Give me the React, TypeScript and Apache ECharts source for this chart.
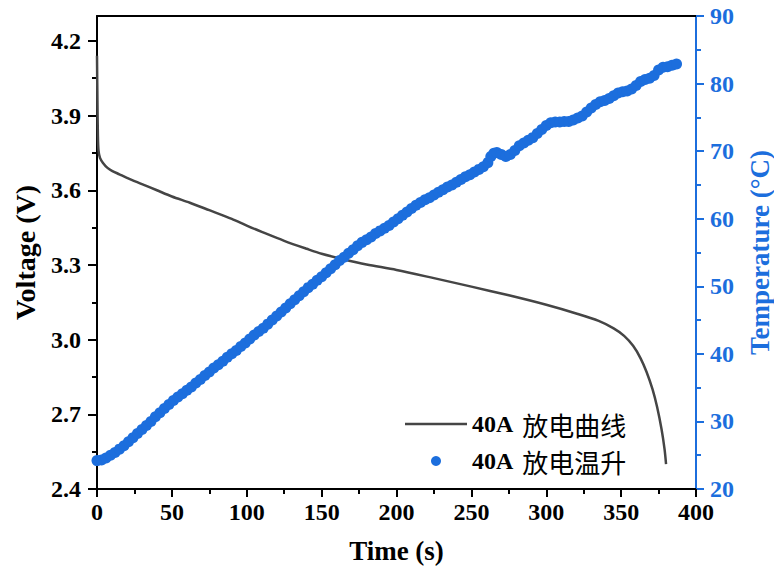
import React, { useEffect, useRef } from "react";
import * as echarts from "echarts";

// Discharge voltage curve (time s, voltage V)
const timeV = [0, 0.3, 0.6, 1, 2, 4, 7, 10, 15, 20, 30, 40, 50, 62, 75, 90, 100, 110, 125, 140, 150, 165, 180, 200, 225, 250, 275, 300, 320, 335, 345, 352, 358, 363, 367, 371, 374, 377, 379, 380];
const voltage = [4.14, 3.95, 3.82, 3.76, 3.73, 3.71, 3.69, 3.678, 3.664, 3.65, 3.625, 3.6, 3.575, 3.55, 3.52, 3.485, 3.458, 3.433, 3.397, 3.365, 3.345, 3.322, 3.302, 3.28, 3.247, 3.213, 3.178, 3.14, 3.105, 3.075, 3.045, 3.015, 2.975, 2.925, 2.87, 2.8, 2.73, 2.64, 2.56, 2.5];

// Temperature rise (time s, temperature °C)
const timeT = [0, 3, 6, 9, 12, 15, 18, 21, 24, 27, 30, 33, 36, 39, 42, 45, 48, 51, 54, 57, 60, 63, 66, 69, 72, 75, 78, 81, 84, 87, 90, 93, 96, 99, 102, 105, 108, 111, 114, 117, 120, 123, 126, 129, 132, 135, 138, 141, 144, 147, 150, 153, 156, 159, 162, 165, 168, 171, 174, 177, 180, 183, 186, 189, 192, 195, 198, 201, 204, 207, 210, 213, 216, 219, 222, 225, 228, 231, 234, 237, 240, 243, 246, 249, 252, 255, 258, 261, 263, 265, 267, 270, 273, 276, 279, 282, 285, 288, 291, 294, 297, 300, 303, 306, 309, 312, 315, 318, 321, 324, 327, 330, 333, 336, 339, 342, 345, 348, 351, 354, 357, 360, 363, 366, 369, 372, 375, 378, 381, 384, 387];
const temperature = [24.2, 24.3, 24.6, 25.0, 25.4, 25.9, 26.4, 27.0, 27.6, 28.2, 28.8, 29.4, 30.0, 30.7, 31.3, 31.9, 32.5, 33.1, 33.6, 34.1, 34.6, 35.1, 35.7, 36.2, 36.8, 37.3, 37.9, 38.4, 38.9, 39.5, 40.0, 40.5, 41.1, 41.6, 42.2, 42.8, 43.3, 43.8, 44.4, 45.0, 45.6, 46.2, 46.8, 47.4, 48.0, 48.6, 49.2, 49.8, 50.3, 50.9, 51.4, 52.0, 52.6, 53.2, 53.8, 54.3, 54.9, 55.4, 56.0, 56.5, 56.9, 57.3, 57.8, 58.2, 58.6, 59.0, 59.5, 60.0, 60.5, 61.0, 61.5, 62.0, 62.4, 62.8, 63.1, 63.5, 63.9, 64.3, 64.7, 65.0, 65.4, 65.8, 66.2, 66.5, 66.9, 67.3, 67.7, 68.3, 69.2, 69.7, 69.8, 69.5, 69.2, 69.5, 70.1, 70.8, 71.2, 71.6, 72.0, 72.6, 73.2, 73.8, 74.2, 74.3, 74.3, 74.4, 74.4, 74.6, 74.9, 75.2, 75.8, 76.4, 76.9, 77.3, 77.5, 77.8, 78.2, 78.6, 78.8, 78.9, 79.2, 79.7, 80.3, 80.6, 80.8, 81.2, 82.0, 82.4, 82.5, 82.7, 82.9];

const voltageMajorTicks = [2.4, 2.7, 3.0, 3.3, 3.6, 3.9, 4.2];
const voltageMinorTicks = [2.55, 2.85, 3.15, 3.45, 3.75, 4.05];

const seriesNames = ["40A 放电曲线", "40A 放电温升"];

const BLUE = "#1c6edd";
const GREY = "#454545";
const SERIF = "Liberation Serif";
const CJK = "Noto Sans CJK SC";

export default function App() {
  const ref = useRef<HTMLDivElement>(null);
  useEffect(() => {
    const chart = echarts.init(ref.current!, null, { renderer: "svg" });
    const labelStyle = { fontFamily: SERIF, fontWeight: "bold", fontSize: 24, color: "#000" };
    chart.setOption({
      animation: false,
      backgroundColor: "#fff",
      grid: { left: 97, right: 78, top: 16, bottom: 79, containLabel: false, outerBoundsMode: "none" },
      legend: {
        orient: "vertical",
        left: 405,
        top: 411,
        padding: 0,
        itemWidth: 62,
        itemHeight: 10,
        itemGap: 11,
        data: [
          { name: seriesNames[0], icon: "path://M0,0H62V2.5H0Z", itemStyle: { color: GREY } },
          { name: seriesNames[1], icon: "circle" },
        ],
        formatter: (name: string) => `{a|${name.slice(0, 3)}}{b|${name.slice(4)}}`,
        textStyle: {
          rich: {
            a: { fontFamily: SERIF, fontWeight: "bold", fontSize: 24, color: "#000" },
            b: { fontFamily: CJK, fontSize: 26, color: "#000", padding: [0, 0, 0, 9] },
          },
        },
      },
      xAxis: [
        {
          type: "value",
          position: "bottom",
          min: 0,
          max: 400,
          interval: 50,
          axisLine: { onZero: false, lineStyle: { color: "#000", width: 2 } },
          axisTick: { length: 8, lineStyle: { color: "#000", width: 2 } },
          minorTick: { show: true, splitNumber: 2, length: 5, lineStyle: { color: "#000", width: 2 } },
          splitLine: { show: false },
          axisLabel: { ...labelStyle, margin: 11 },
          name: "Time (s)",
          nameLocation: "middle",
          nameGap: 48,
          nameTextStyle: { fontFamily: SERIF, fontWeight: "bold", fontSize: 27, color: "#000" },
        },
        {
          type: "value",
          position: "top",
          min: 0,
          max: 400,
          axisLine: { show: true, onZero: false, lineStyle: { color: "#000", width: 2 } },
          axisTick: { show: false },
          axisLabel: { show: false },
          splitLine: { show: false },
        },
      ],
      yAxis: [
        {
          type: "value",
          position: "left",
          min: 2.4,
          max: 4.3,
          interval: 0.3,
          axisLine: { show: true, onZero: false, lineStyle: { color: "#000", width: 2 } },
          axisTick: { show: true, length: 9, customValues: voltageMajorTicks, lineStyle: { color: "#000", width: 2 } },
          axisLabel: { ...labelStyle, margin: 16, customValues: voltageMajorTicks, formatter: (v: number) => v.toFixed(1) },
          splitLine: { show: false },
          name: "Voltage (V)",
          nameLocation: "middle",
          nameGap: 58,
          nameTextStyle: { fontFamily: SERIF, fontWeight: "bold", fontSize: 28, color: "#000" },
        },
        {
          type: "value",
          position: "right",
          min: 20,
          max: 90,
          interval: 10,
          axisLine: { show: true, onZero: false, lineStyle: { color: BLUE, width: 2 } },
          axisTick: { length: 8, lineStyle: { color: BLUE, width: 2 } },
          minorTick: { show: true, splitNumber: 2, length: 5, lineStyle: { color: BLUE, width: 2 } },
          splitLine: { show: false },
          axisLabel: { ...labelStyle, color: BLUE, margin: 14 },
          name: "Temperature (°C)",
          nameLocation: "middle",
          nameGap: 50,
          nameRotate: 90,
          nameTextStyle: { fontFamily: SERIF, fontWeight: "bold", fontSize: 27, color: BLUE },
        },
        {
          type: "value",
          position: "left",
          min: 2.4,
          max: 4.3,
          axisLine: { show: false },
          axisTick: { show: true, length: 5, customValues: voltageMinorTicks, lineStyle: { color: "#000", width: 2 } },
          axisLabel: { show: false },
          splitLine: { show: false },
        },
      ],
      series: [
        {
          name: seriesNames[0],
          type: "line",
          xAxisIndex: 0,
          yAxisIndex: 0,
          data: timeV.map((t, i) => [t, voltage[i]]),
          symbol: "none",
          smooth: 0.3,
          lineStyle: { color: GREY, width: 2.5 },
          itemStyle: { color: GREY },
          z: 2,
        },
        {
          name: seriesNames[1],
          type: "scatter",
          xAxisIndex: 0,
          yAxisIndex: 1,
          data: timeT.map((t, i) => [t, temperature[i]]),
          symbol: "circle",
          symbolSize: 11,
          itemStyle: { color: BLUE, opacity: 1 },
          z: 3,
        },
      ],
    });
    return () => chart.dispose();
  }, []);
  return <div ref={ref} style={{ position: "absolute", left: 0, top: 0, width: 774, height: 568 }} />;
}
